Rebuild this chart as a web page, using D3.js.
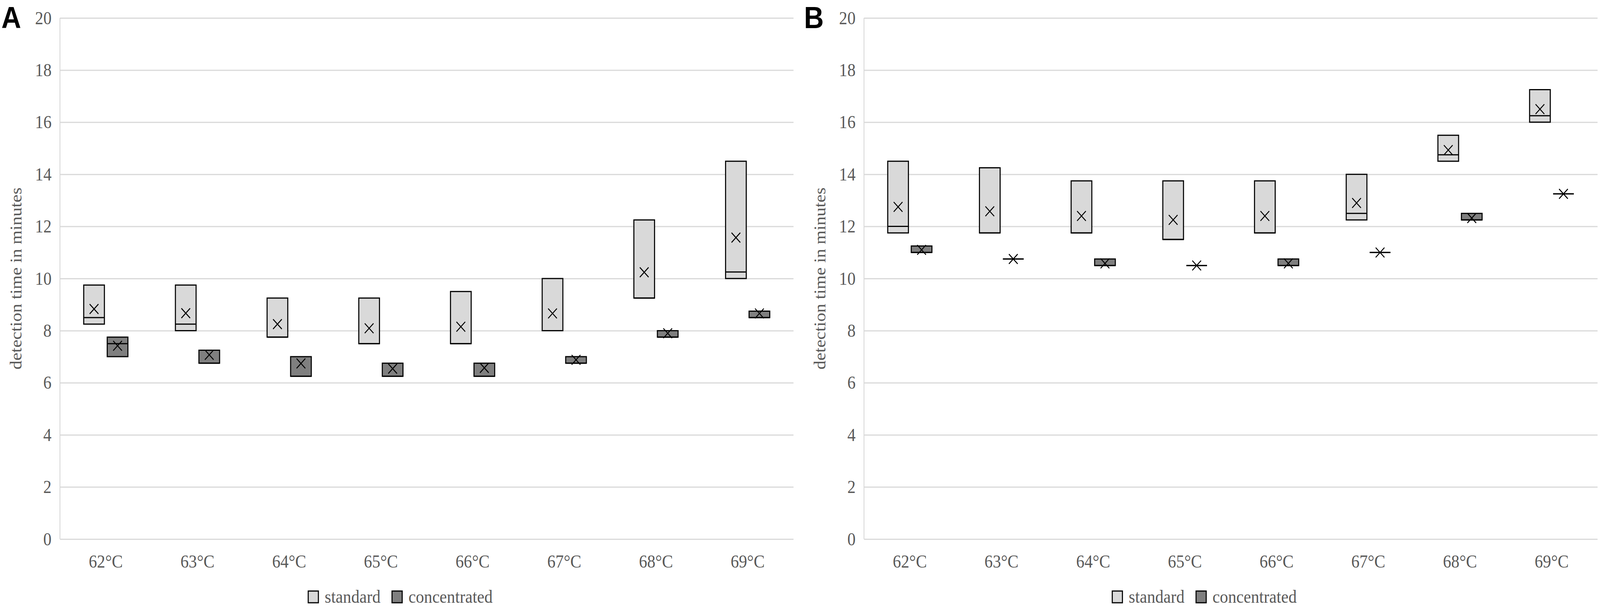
<!DOCTYPE html>
<html>
<head>
<meta charset="utf-8">
<script src="https://cdn.jsdelivr.net/npm/d3@7"></script>
<style>
  html, body { margin: 0; padding: 0; background: #ffffff; overflow: hidden; width: 100%; height: 100%; }
  svg { display: block; width: 100vw; height: 100vh; }
</style>
</head>
<body>
<svg id="chart" viewBox="0 0 4563 1559" preserveAspectRatio="none"></svg>
<script>
// ---------------- DATA ----------------
const categories = ["62°C", "63°C", "64°C", "65°C", "66°C", "67°C", "68°C", "69°C"];
const seriesNames = ["standard", "concentrated"];
const yTicks = [0, 2, 4, 6, 8, 10, 12, 14, 16, 18, 20];
const yTitle = "detection time in minutes";

// Panel A
const stdA_q1   = [8.25, 8.0, 7.75, 7.5, 7.5, 8.0, 9.25, 10.0];
const stdA_med  = [8.5, 8.25, 7.75, 7.5, 7.5, 8.0, 9.25, 10.25];
const stdA_q3   = [9.75, 9.75, 9.25, 9.25, 9.5, 10.0, 12.25, 14.5];
const stdA_mean = [8.83, 8.67, 8.25, 8.09, 8.15, 8.66, 10.24, 11.57];

const concA_q1   = [7.0, 6.75, 6.25, 6.25, 6.25, 6.75, 7.75, 8.5];
const concA_med  = [7.5, 6.75, 6.25, 6.25, 6.25, 6.75, 7.75, 8.5];
const concA_q3   = [7.75, 7.25, 7.0, 6.75, 6.75, 7.0, 8.0, 8.75];
const concA_mean = [7.42, 7.07, 6.74, 6.54, 6.57, 6.88, 7.9, 8.66];

// Panel B
const stdB_q1   = [11.75, 11.75, 11.75, 11.5, 11.75, 12.25, 14.5, 16.0];
const stdB_med  = [12.0, 11.75, 11.75, 11.5, 11.75, 12.5, 14.75, 16.25];
const stdB_q3   = [14.5, 14.25, 13.75, 13.75, 13.75, 14.0, 15.5, 17.25];
const stdB_mean = [12.75, 12.58, 12.4, 12.25, 12.4, 12.9, 14.93, 16.5];

const concB_q1   = [11.0, 10.75, 10.5, 10.5, 10.5, 11.0, 12.25, 13.25];
const concB_med  = [11.0, 10.75, 10.5, 10.5, 10.5, 11.0, 12.25, 13.25];
const concB_q3   = [11.25, 10.75, 10.75, 10.5, 10.75, 11.0, 12.5, 13.25];
const concB_mean = [11.1, 10.75, 10.58, 10.5, 10.58, 11.0, 12.32, 13.25];

// ---------------- BUILD ----------------
function buildSeries(q1, med, q3, mean, name) {
  return categories.map((c, i) => ({ cat: c, series: name, q1: q1[i], med: med[i], q3: q3[i], mean: mean[i] }));
}
const panels = [
  { label: "A", offset: 0, labelX: 4,
    data: [buildSeries(stdA_q1, stdA_med, stdA_q3, stdA_mean, "standard"),
           buildSeries(concA_q1, concA_med, concA_q3, concA_mean, "concentrated")] },
  { label: "B", offset: 2293, labelX: 0,
    data: [buildSeries(stdB_q1, stdB_med, stdB_q3, stdB_mean, "standard"),
           buildSeries(concB_q1, concB_med, concB_q3, concB_mean, "concentrated")] }
];

const fills = { standard: "#d9d9d9", concentrated: "#7f7f7f" };
const textColor = "#595959";
const gridColor = "#d9d9d9";
const serif = "'Liberation Serif', 'Times New Roman', serif";

const svg = d3.select("#chart");
const plotLeft = 171, plotRight = 2263, plotTop = 46, plotBottom = 1380;

const y = d3.scaleLinear().domain([0, 20]).range([plotBottom, plotTop]);

panels.forEach(p => {
  const g = svg.append("g").attr("transform", `translate(${p.offset},0)`);

  const x = d3.scaleBand().domain(categories).range([plotLeft, plotRight])
    .paddingInner(0.518).paddingOuter(0.259);
  const xs = d3.scaleBand().domain(seriesNames).range([0, x.bandwidth()])
    .paddingInner(0.12).paddingOuter(0);

  // gridlines
  g.append("g")
    .attr("transform", `translate(${plotLeft},0)`)
    .call(d3.axisLeft(y).tickValues(yTicks).tickSize(-(plotRight - plotLeft)).tickFormat(""))
    .call(s => s.select(".domain").remove())
    .call(s => s.selectAll("line").attr("stroke", gridColor).attr("stroke-width", 3));

  // vertical axis line
  g.append("line")
    .attr("x1", plotLeft).attr("x2", plotLeft)
    .attr("y1", y(20)).attr("y2", y(0))
    .attr("stroke", gridColor).attr("stroke-width", 2.5);

  // y tick labels
  g.append("g")
    .attr("transform", `translate(${plotLeft},0)`)
    .call(d3.axisLeft(y).tickValues(yTicks).tickSize(0).tickPadding(24))
    .call(s => s.select(".domain").remove())
    .call(s => s.selectAll("text").attr("fill", textColor)
      .style("font-family", serif).style("font-size", "47px"));

  // x labels
  g.append("g")
    .attr("transform", `translate(0,${plotBottom})`)
    .call(d3.axisBottom(x).tickSize(0).tickPadding(40))
    .call(s => s.select(".domain").remove())
    .call(s => s.selectAll("text").attr("fill", textColor)
      .style("font-family", serif).style("font-size", "47px"));

  // y title
  g.append("text")
    .attr("transform", `translate(61,${(y(0) + y(20)) / 2}) rotate(-90)`)
    .attr("text-anchor", "middle")
    .attr("fill", textColor)
    .style("font-family", serif).style("font-size", "46px")
    .text(yTitle);

  // panel label
  g.append("text")
    .attr("x", p.labelX).attr("y", 72)
    .attr("fill", "#000")
    .style("font-family", "'Liberation Sans', Arial, sans-serif")
    .style("font-weight", "bold").style("font-size", "78px")
    .text(p.label);

  // boxes
  p.data.forEach(series => {
    const sg = g.append("g");
    const bw = xs.bandwidth();
    const boxes = sg.selectAll("g.box").data(series).join("g").attr("class", "box")
      .attr("transform", d => `translate(${x(d.cat) + xs(d.series)},0)`);

    boxes.append("rect")
      .attr("x", 0).attr("width", bw)
      .attr("y", d => y(d.q3)).attr("height", d => y(d.q1) - y(d.q3))
      .attr("fill", d => fills[d.series]);

    boxes.append("line")
      .attr("x1", 0).attr("x2", bw)
      .attr("y1", d => y(d.med)).attr("y2", d => y(d.med))
      .attr("stroke", "#000").attr("stroke-width", 3);

    boxes.append("path")
      .attr("d", d => {
        const pa = d3.path();
        pa.moveTo(0, y(d.q3)); pa.lineTo(bw, y(d.q3)); pa.lineTo(bw, y(d.q1));
        pa.lineTo(0, y(d.q1)); pa.closePath();
        return pa.toString();
      })
      .attr("fill", "none").attr("stroke", "#000").attr("stroke-width", 3);

    const h = 12.5;
    boxes.append("path")
      .attr("d", d => {
        const cx = bw / 2, cy = y(d.mean);
        const pa = d3.path();
        pa.moveTo(cx - h, cy - h); pa.lineTo(cx + h, cy + h);
        pa.moveTo(cx + h, cy - h); pa.lineTo(cx - h, cy + h);
        return pa.toString();
      })
      .attr("fill", "none").attr("stroke", "#000").attr("stroke-width", 2.6);
  });

  // legend
  const legendPos = [{ box: 879, text: 926 }, { box: 1118, text: 1165 }];
  seriesNames.forEach((name, i) => {
    g.append("rect")
      .attr("x", legendPos[i].box).attr("y", 1513)
      .attr("width", 29).attr("height", 30)
      .attr("fill", fills[name]).attr("stroke", "#000").attr("stroke-width", 3);
    g.append("text")
      .attr("x", legendPos[i].text).attr("y", 1543)
      .attr("fill", textColor)
      .style("font-family", serif).style("font-size", "47px")
      .text(name);
  });
});
</script>
</body>
</html>
